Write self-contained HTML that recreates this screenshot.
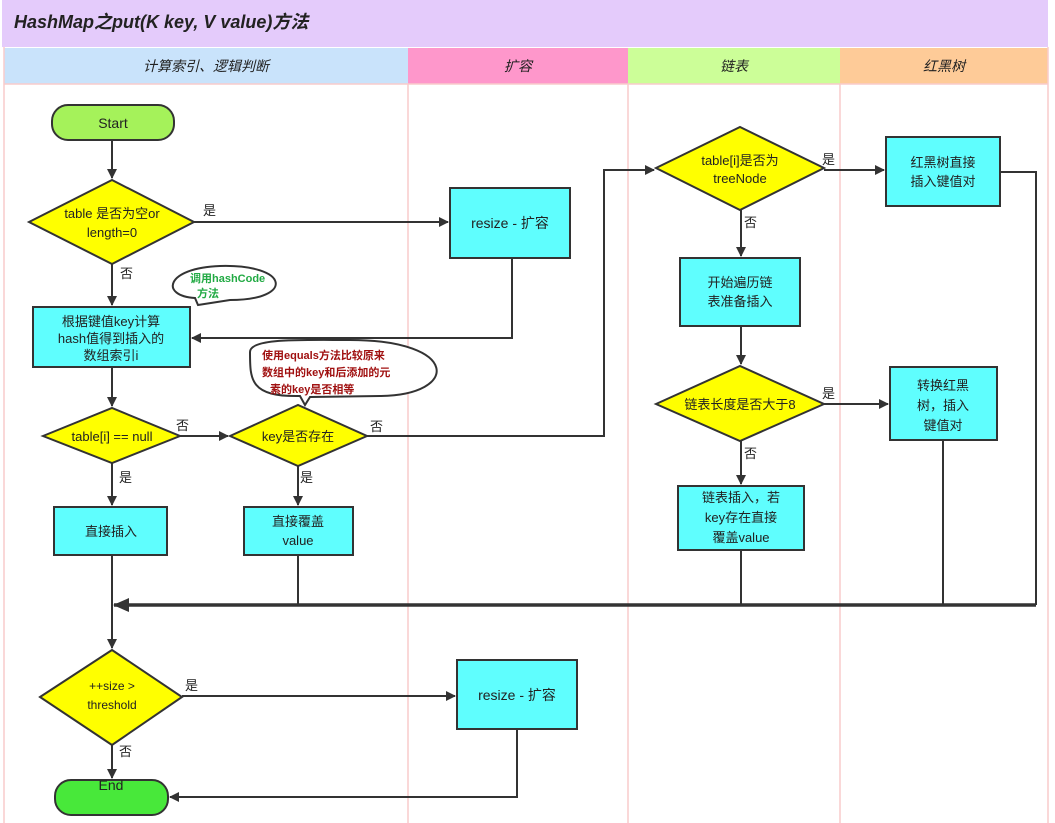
<!DOCTYPE html>
<html><head><meta charset="utf-8"><style>
body{margin:0;background:#fff}
svg{display:block}
text{font-family:"Liberation Sans","Noto Sans CJK SC",sans-serif;fill:#222}
</style></head><body>
<svg width="1055" height="823" viewBox="0 0 1055 823" xmlns="http://www.w3.org/2000/svg">
<defs><marker id="a" markerWidth="10" markerHeight="10" refX="9" refY="5" orient="auto" markerUnits="userSpaceOnUse"><path d="M0,0 L10,5 L0,10 z" fill="#333"/></marker>
<marker id="b" markerWidth="16" markerHeight="14" refX="15" refY="7" orient="auto" markerUnits="userSpaceOnUse"><path d="M0,0 L16,7 L0,14 z" fill="#333"/></marker></defs>
<rect x="0" y="0" width="1055" height="823" fill="#fff"/>
<rect x="2" y="0" width="1046" height="47" fill="#e4cbfb"/>
<text x="14" y="28" font-size="18" font-style="italic" font-weight="bold" fill="#222">HashMap之put(K key, V value)方法</text>
<rect x="4" y="48" width="404" height="36" fill="#c9e3fb"/>
<rect x="408" y="48" width="220" height="36" fill="#fe97cb"/>
<rect x="628" y="48" width="212" height="36" fill="#ccfe98"/>
<rect x="840" y="48" width="208" height="36" fill="#fecb98"/>
<g font-size="14" font-style="italic" text-anchor="middle">
<text x="206" y="71">计算索引、逻辑判断</text><text x="518" y="71">扩容</text><text x="734" y="71">链表</text><text x="944" y="71">红黑树</text></g>
<g stroke="#f8cccc" stroke-width="1.5"><line x1="4" y1="47" x2="4" y2="823"/><line x1="408" y1="84" x2="408" y2="823"/><line x1="628" y1="84" x2="628" y2="823"/><line x1="840" y1="84" x2="840" y2="823"/><line x1="1048" y1="47" x2="1048" y2="823"/><line x1="4" y1="84" x2="1048" y2="84"/></g>

<g stroke="#333" stroke-width="2" fill="none">
<line x1="112" y1="140" x2="112" y2="178" marker-end="url(#a)"/>
<line x1="194" y1="222" x2="448" y2="222" marker-end="url(#a)"/>
<line x1="112" y1="264" x2="112" y2="305" marker-end="url(#a)"/>
<polyline points="512,258 512,338 192,338" marker-end="url(#a)"/>
<line x1="112" y1="367" x2="112" y2="406" marker-end="url(#a)"/>
<line x1="180" y1="436" x2="228" y2="436" marker-end="url(#a)"/>
<polyline points="367,436 604,436 604,170 654,170" marker-end="url(#a)"/>
<line x1="112" y1="463" x2="112" y2="505" marker-end="url(#a)"/>
<line x1="298" y1="466" x2="298" y2="505" marker-end="url(#a)"/>
<line x1="824" y1="170" x2="884" y2="170" marker-end="url(#a)"/>
<line x1="741" y1="210" x2="741" y2="256" marker-end="url(#a)"/>
<line x1="741" y1="326" x2="741" y2="364" marker-end="url(#a)"/>
<line x1="824" y1="404" x2="888" y2="404" marker-end="url(#a)"/>
<line x1="741" y1="441" x2="741" y2="484" marker-end="url(#a)"/>
<polyline points="1000,172 1036,172 1036,605"/>
<line x1="943" y1="440" x2="943" y2="605"/>
<line x1="741" y1="550" x2="741" y2="605"/>
<line x1="298" y1="555" x2="298" y2="605"/>
<line x1="112" y1="555" x2="112" y2="648" marker-end="url(#a)"/>
<line x1="182" y1="696" x2="455" y2="696" marker-end="url(#a)"/>
<line x1="112" y1="745" x2="112" y2="778" marker-end="url(#a)"/>
<polyline points="517,729 517,797 170,797" marker-end="url(#a)"/>
</g>
<line x1="1036" y1="605" x2="114" y2="605" stroke="#333" stroke-width="3.5" marker-end="url(#b)"/>

<g stroke="#333" stroke-width="2">
<rect x="52" y="105" width="122" height="35" rx="16" fill="#a5f25a"/>
<rect x="55" y="780" width="113" height="35" rx="16" fill="#48e83a"/>
<g fill="#ffff00">
<polygon points="29,222 112,180 194,222 112,264"/>
<polygon points="43,436 112,408 180,436 112,463"/>
<polygon points="230,436 298,405 367,436 298,466"/>
<polygon points="656,168 740,127 824,168 740,210"/>
<polygon points="656,404 740,366 824,404 740,441"/>
<polygon points="40,697 112,650 182,697 112,745"/>
</g>
<g fill="#5ffefe">
<rect x="450" y="188" width="120" height="70"/>
<rect x="33" y="307" width="157" height="60"/>
<rect x="886" y="137" width="114" height="69"/>
<rect x="680" y="258" width="120" height="68"/>
<rect x="890" y="367" width="107" height="73"/>
<rect x="678" y="486" width="126" height="64"/>
<rect x="54" y="507" width="113" height="48"/>
<rect x="244" y="507" width="109" height="48"/>
<rect x="457" y="660" width="120" height="69"/>
</g>
<path d="M195,298 C160,296 165,268 220,266 C290,264 295,300 230,300 L198,305 Z" fill="#fff"/>
<path d="M250,352 C250,338 300,340 350,340 C460,340 460,395 380,396 L310,397 L305,405 L300,396 C250,397 250,380 250,352 Z" fill="#fff"/>
</g>

<g font-size="14" text-anchor="middle">
<text x="113" y="128">Start</text>
<text x="111" y="790" font-size="14">End</text>
<text x="112" y="218" font-size="13">table 是否为空or</text><text x="112" y="237" font-size="13">length=0</text>
<text x="510" y="228">resize - 扩容</text>
<text x="111" y="326" font-size="13">根据键值key计算</text><text x="111" y="343" font-size="13">hash值得到插入的</text><text x="111" y="360" font-size="13">数组索引i</text>
<text x="112" y="441" font-size="13">table[i] == null</text>
<text x="298" y="441" font-size="13">key是否存在</text>
<text x="740" y="165" font-size="13">table[i]是否为</text><text x="740" y="183" font-size="13">treeNode</text>
<text x="943" y="167" font-size="13">红黑树直接</text><text x="943" y="186" font-size="13">插入键值对</text>
<text x="740" y="287" font-size="13">开始遍历链</text><text x="740" y="306" font-size="13">表准备插入</text>
<text x="740" y="409" font-size="13">链表长度是否大于8</text>
<text x="943" y="390" font-size="13">转换红黑</text><text x="943" y="410" font-size="13">树，插入</text><text x="943" y="430" font-size="13">键值对</text>
<text x="741" y="502" font-size="13">链表插入，若</text><text x="741" y="522" font-size="13">key存在直接</text><text x="741" y="542" font-size="13">覆盖value</text>
<text x="111" y="536" font-size="13">直接插入</text>
<text x="298" y="526" font-size="13">直接覆盖</text><text x="298" y="545" font-size="13">value</text>
<text x="112" y="690" font-size="12">++size &gt;</text><text x="112" y="709" font-size="12">threshold</text>
<text x="517" y="700">resize - 扩容</text>
</g>
<g font-size="13">
<text x="203" y="215">是</text><text x="120" y="278">否</text><text x="176" y="430">否</text><text x="370" y="431">否</text>
<text x="119" y="482">是</text><text x="300" y="482">是</text><text x="822" y="164">是</text><text x="744" y="227">否</text>
<text x="822" y="398">是</text><text x="744" y="458">否</text><text x="185" y="690">是</text><text x="119" y="756">否</text>
</g>
<g font-family="Liberation Serif,'Noto Serif CJK SC',serif" font-size="11" font-weight="bold">
<text x="190" y="282" fill="#22aa44" style="fill:#22aa44">调用hashCode</text><text x="197" y="297" style="fill:#22aa44">方法</text>
<text x="262" y="359" style="fill:#a01010">使用equals方法比较原来</text><text x="262" y="376" style="fill:#a01010">数组中的key和后添加的元</text><text x="270" y="393" style="fill:#a01010">素的key是否相等</text>
</g>
</svg>
</body></html>
